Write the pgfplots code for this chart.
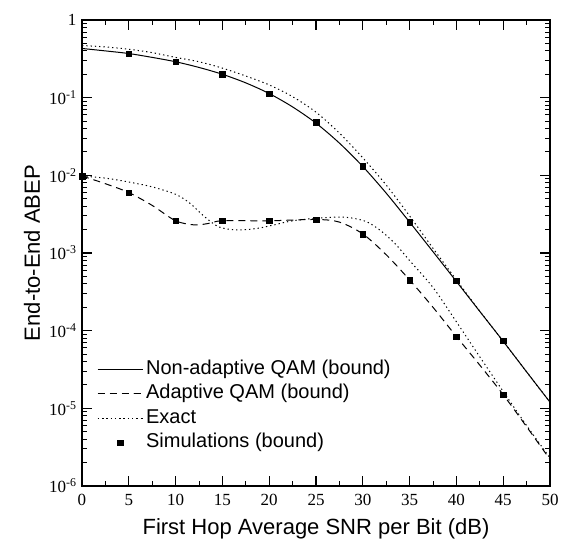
\documentclass[border=0pt]{standalone}
\usepackage{fontspec}
\setmainfont{Liberation Serif}
\setsansfont{Liberation Sans}
\usepackage{pgfplots}
\pgfplotsset{compat=1.18}
\begin{document}
\begin{tikzpicture}
\begin{axis}[
  name=ax,
  scale only axis, width=468pt, height=466pt,
  xmin=0, xmax=50, ymode=log, ymin=1e-6, ymax=1,
  xtick={0,5,...,50}, minor x tick num=1,
  ytick={1e-6,1e-5,1e-4,1e-3,1e-2,1e-1,1},
  yticklabels={10\textsuperscript{-6},10\textsuperscript{-5},10\textsuperscript{-4},10\textsuperscript{-3},10\textsuperscript{-2},10\textsuperscript{-1},1},
  minor ytick={2e-6,3e-6,4e-6,5e-6,6e-6,7e-6,8e-6,9e-6,
               2e-5,3e-5,4e-5,5e-5,6e-5,7e-5,8e-5,9e-5,
               2e-4,3e-4,4e-4,5e-4,6e-4,7e-4,8e-4,9e-4,
               2e-3,3e-3,4e-3,5e-3,6e-3,7e-3,8e-3,9e-3,
               2e-2,3e-2,4e-2,5e-2,6e-2,7e-2,8e-2,9e-2,
               2e-1,3e-1,4e-1,5e-1,6e-1,7e-1,8e-1,9e-1},
  tick align=inside,
  major tick length=10pt, minor tick length=5pt,
  axis line style={line width=1.6pt},
  every tick/.style={black, line width=1.3pt},
  every minor tick/.append style={line width=1pt},
  tick label style={font=\fontsize{17}{17}\selectfont},
  /pgf/number format/assume math mode=true,
  xticklabel style={yshift=-5pt},
  yticklabel style={xshift=-2pt},
  xlabel={First Hop Average SNR per Bit (dB)},
  ylabel={End-to-End ABEP},
  label style={font=\sffamily\fontsize{22}{22}\selectfont},
  xlabel style={yshift=-6pt},
  ylabel style={yshift=2pt},
  legend image code/.code={\draw[mark repeat=2,mark phase=2,#1] plot coordinates {(0cm,0cm) (0.79cm,0cm) (1.58cm,0cm)};},
  legend style={at={(0.032,0.066)}, anchor=south west, draw=none, fill=none,
    inner sep=0pt, font=\sffamily\fontsize{20}{24}\selectfont,
    nodes={text height=15pt, text depth=5pt, inner ysep=2.25pt, inner xsep=3pt},
    row sep=0pt},
  legend cell align=left,
]
% Non-adaptive QAM (bound)
\addplot[black, line width=1pt, smooth] coordinates {
 (0,0.43) (2.5,0.40) (5,0.37) (7.5,0.33) (10,0.29) (12.5,0.245) (15,0.20)
 (17.5,0.155) (20,0.113) (22.5,0.076) (25,0.047) (27.5,0.026) (30,0.013)
 (32.5,0.0059) (35,0.0025) (37.5,0.00104) (40,0.00043) (42.5,0.000177)
 (45,7.3e-5) (47.5,2.95e-5) (50,1.2e-5)};
\addlegendentry{Non-adaptive QAM (bound)}
% Adaptive QAM (bound)
\addplot[black, line width=1pt, dash pattern=on 7pt off 5pt, smooth] coordinates {
 (0,0.0098) (2.5,0.0078) (5,0.006) (7.5,0.0041) (10,0.0026) (12,0.0023)
 (13.5,0.0024) (15,0.0026) (20,0.0026) (25,0.0027) (27.5,0.0025) (30,0.00176)
 (32.5,0.00095) (35,0.00045) (37.5,0.0002) (40,8.4e-5) (42.5,3.6e-5)
 (45,1.5e-5) (47.5,5.8e-6) (50,2.2e-6)};
\addlegendentry{Adaptive QAM (bound)}
% Exact (non-adaptive)
\addplot[black, line width=1pt, dash pattern=on 1.3pt off 3pt, smooth] coordinates {
 (0,0.47) (2.5,0.45) (5,0.42) (7.5,0.38) (10,0.33) (12.5,0.29) (15,0.24)
 (17.5,0.19) (20,0.146) (22.5,0.103) (25,0.065) (27.5,0.035) (30,0.0168)
 (32.5,0.0075) (35,0.003) (37.5,0.00115) (40,0.00045) (42.5,0.000178)
 (45,7.3e-5) (47.5,2.95e-5) (50,1.2e-5)};
\addlegendentry{Exact}
% Simulations (non-adaptive)
\addplot[black, only marks, mark=square*, mark size=2.8pt] coordinates {
 (5,0.37) (10,0.29) (15,0.20) (20,0.113) (25,0.048) (30,0.0132)
 (35,0.0025) (40,0.00044) (45,7.4e-5)};
\addlegendentry{Simulations (bound)}
% Exact (adaptive)
\addplot[forget plot, black, line width=1pt, dash pattern=on 1.3pt off 3pt, smooth] coordinates {
 (0,0.0098) (2.5,0.0092) (5,0.0082) (7.5,0.0071) (10,0.0057) (11.5,0.0044)
 (13,0.003) (14.5,0.0022) (16,0.0020) (17.5,0.0020) (19,0.0021) (20.5,0.0023)
 (22.5,0.0026) (25,0.0028) (27.5,0.0029) (29,0.0028) (30.5,0.0025) (32,0.0019)
 (33.5,0.0013) (35,0.0008) (37.5,0.00036) (40,0.00013) (42.5,4.6e-5)
 (45,1.65e-5) (47.5,6e-6) (50,2.3e-6)};
% Simulations (adaptive)
\addplot[forget plot, black, only marks, mark=square*, mark size=2.8pt] coordinates {
 (0,0.0098) (5,0.006) (10,0.0026) (15,0.0026) (20,0.0026) (25,0.0027)
 (30,0.00176) (35,0.00045) (40,8.4e-5) (45,1.5e-5)};
\end{axis}
\pgfresetboundingbox
\path ([shift={(-82pt,-59pt)}]ax.south west) rectangle ([shift={(16pt,20pt)}]ax.north east);
\end{tikzpicture}
\end{document}
